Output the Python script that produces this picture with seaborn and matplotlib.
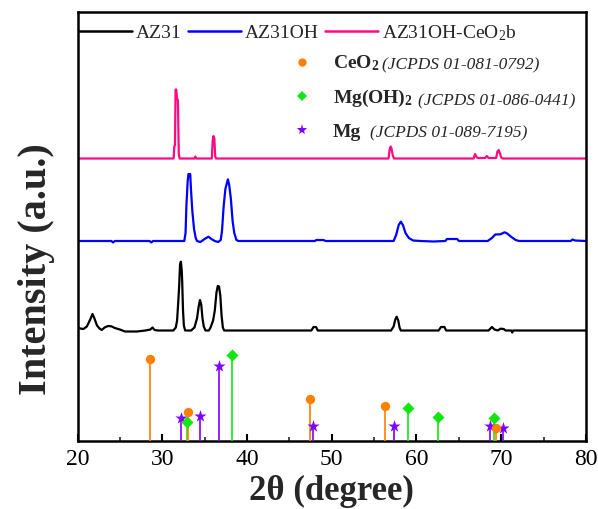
import numpy as np
import pandas as pd
import matplotlib
matplotlib.use("Agg")
import matplotlib.pyplot as plt
import seaborn as sns
from matplotlib.lines import Line2D

# ---------------- data ----------------
# XRD patterns: 2theta and intensity above each pattern's own baseline (a.u.)
az31_2theta = [20.0, 20.3, 20.7, 21.1, 21.5, 21.77, 22.0, 22.3, 22.6, 22.85, 23.2, 23.6, 24.0, 24.4,
               25.0, 25.6, 27.0, 28.0, 28.6, 28.85, 29.1, 29.5, 31.3, 31.6, 31.75, 31.9, 32.0, 32.1,
               32.2, 32.3, 32.35, 32.45, 32.55, 32.7, 33.4, 33.8, 34.1, 34.3, 34.45, 34.6, 34.75, 34.9,
               35.1, 35.5, 35.7, 36.0, 36.2, 36.4, 36.55, 36.7, 36.85, 37.0, 37.15, 37.3, 47.6, 47.85,
               48.15, 48.35, 57.0, 57.3, 57.5, 57.66, 57.85, 58.0, 58.15, 62.6, 62.9, 63.3, 63.5, 68.5,
               68.9, 69.2, 69.6, 69.9, 70.3, 70.5, 71.2, 71.3, 71.4, 80.0]
az31_int = [3.8, 2.0, 1.5, 4.0, 11.0, 16.5, 12.0, 5.0, 2.0, 0.5, 3.0, 4.5, 4.2, 2.5,
            1.0, -1.0, -1.0, 0.0, 1.0, 3.0, 0.5, 0.0, 0.0, 3.0, 10.0, 30.0, 45.0, 66.0,
            68.8, 60.0, 50.0, 20.0, 5.0, 0.0, 0.0, 3.0, 12.0, 24.0, 30.5, 26.0, 12.0, 4.0,
            0.0, 0.0, 3.0, 10.0, 20.0, 38.0, 44.5, 44.0, 35.0, 15.0, 3.0, 0.0, 0.0, 3.5,
            3.5, 0.0, 0.0, 4.0, 11.0, 13.8, 10.0, 3.0, 0.0, 0.0, 3.5, 3.5, 0.0, 0.0,
            3.5, 1.0, 0.0, 1.8, 1.5, 0.0, 0.0, -2.0, 0.0, 0.0]

az31oh_2theta = [20.0, 24.0, 24.2, 24.4, 28.5, 28.7, 28.9, 32.6, 32.75, 32.85, 33.0, 33.1, 33.2,
                 33.3, 33.4, 33.55, 33.75, 33.95, 34.1, 34.5, 35.0, 35.45, 35.8, 36.2, 36.6, 36.9,
                 37.05, 37.25, 37.45, 37.6, 37.75, 37.9, 38.1, 38.3, 38.5, 38.75, 39.0, 48.0, 48.2,
                 49.0, 49.3, 57.3, 57.6, 57.9, 58.15, 58.4, 58.7, 59.1, 59.6, 60.5, 62.0, 63.4, 63.6,
                 64.8, 65.0, 68.4, 68.9, 69.3, 69.9, 70.4, 70.7, 71.2, 71.7, 72.1, 78.2, 78.4, 78.7, 80.0]
az31oh_int = [0.0, 0.0, -1.5, 0.0, 0.0, -1.5, 0.0, 0.0, 8.0, 35.0, 60.0, 67.0, 66.0,
              67.0, 50.0, 30.0, 12.0, 3.0, 0.0, -1.0, 2.0, 4.3, 2.0, 0.0, -1.0, 1.0,
              10.0, 35.0, 52.0, 57.0, 61.7, 56.0, 42.0, 20.0, 8.0, 1.0, 0.0, 0.0, 1.0,
              1.0, 0.0, 0.0, 6.0, 16.0, 19.3, 16.0, 8.0, 3.0, 0.5, 0.0, -0.5, 0.0, 2.0,
              2.0, 0.0, 0.0, 3.0, 6.5, 6.7, 8.7, 7.5, 4.0, 1.0, 0.0, 0.0, 1.5, 0.5, 0.0]

ceo2b_2theta = [20.0, 31.35, 31.42, 31.5, 31.57, 31.65, 31.75, 31.85, 31.95, 32.05, 33.8, 33.9, 34.0,
                35.85, 35.95, 36.05, 36.15, 36.25, 36.35, 56.7, 56.85, 56.95, 57.05, 57.2, 57.35,
                66.75, 66.9, 67.05, 67.2, 68.1, 68.3, 68.5, 69.4, 69.55, 69.7, 69.85, 70.0, 70.2, 80.0]
ceo2b_int = [0.0, 0.0, 12.0, 13.0, 69.0, 69.0, 60.0, 58.0, 5.0, 0.0, 0.0, 2.0, 0.0,
             0.0, 18.0, 22.5, 20.0, 2.0, 0.0, 0.0, 10.0, 12.0, 10.0, 3.0, 0.0,
             0.0, 4.5, 2.0, 0.5, 0.5, 2.5, 0.5, 0.5, 7.0, 8.5, 5.0, 1.0, 0.0, 0.0]

# Reference patterns (stick positions and relative intensities)
ceo2_pos = [28.55, 33.08, 47.44, 56.34, 69.37]
ceo2_int = [81.7, 29.3, 41.7, 35.0, 12.7]
mgoh2_pos = [32.95, 38.27, 58.98, 62.5, 69.1]
mgoh2_int = [19.3, 86.0, 32.7, 23.7, 22.7]
mg_pos = [32.2, 34.45, 36.65, 47.83, 57.4, 68.62, 70.16]
mg_int = [23.3, 25.0, 75.3, 15.0, 15.0, 15.0, 12.7]

sample_labels = ["AZ31", "AZ31OH", "AZ31OH-CeO$_2$b"]
phase_labels = ["CeO$_2$", "Mg(OH)$_2$", "Mg"]
phase_cards = ["(JCPDS 01-081-0792)", "(JCPDS 01-086-0441)", "(JCPDS 01-089-7195)"]
xticks = [20, 30, 40, 50, 60, 70, 80]

# ---------------- style ----------------
sns.set_theme(style="ticks")
plt.rcParams['font.family'] = ['Liberation Serif', 'DejaVu Serif']
plt.rcParams['mathtext.fontset'] = 'custom'
plt.rcParams['mathtext.rm'] = 'Liberation Serif'
plt.rcParams['mathtext.it'] = 'Liberation Serif:italic'
plt.rcParams['mathtext.bf'] = 'Liberation Serif:bold'
plt.rcParams['mathtext.default'] = 'regular'

sample_colors = ["#000000", "#0000FF", "#FF0A80"]
sample_offsets = [110.5, 200.0, 282.5]
c_ceo2, c_mgoh2, c_mg = "#FF8000", "#12E612", "#8000FF"

fig = plt.figure(figsize=(5.98, 5.09), dpi=100)
ax = fig.add_axes([0.1296, 0.1336, 0.8503, 0.8428])

patterns = [(az31_2theta, az31_int), (az31oh_2theta, az31oh_int), (ceo2b_2theta, ceo2b_int)]
for (tt, ii), lab, col, off in zip(patterns, sample_labels, sample_colors, sample_offsets):
    df = pd.DataFrame({"2theta": tt, "I": np.asarray(ii) + off})
    sns.lineplot(data=df, x="2theta", y="I", color=col, lw=1.6, ax=ax, label=lab,
                 estimator=None, sort=False)

# stick patterns
for pos, inten, col, mk, sz in [(mg_pos, mg_int, c_mg, "*", 85),
                                (mgoh2_pos, mgoh2_int, c_mgoh2, "D", 38),
                                (ceo2_pos, ceo2_int, c_ceo2, "o", 45)]:
    ax.vlines(pos, 0, inten, color=col, lw=1.2, zorder=3)
    sns.scatterplot(x=pos, y=inten, marker=mk, s=sz, color=col, edgecolor=col,
                    linewidth=0, ax=ax, zorder=4, legend=False)

ax.set_xlim(20, 80)
ax.set_ylim(0, 429)
ax.set_xticks(xticks)
ax.set_xticks(np.arange(25, 80, 10), minor=True)
ax.set_yticks([])
ax.tick_params(axis='x', which='major', direction='in', length=5, width=1.5,
               labelsize=17, pad=6, colors='black')
ax.tick_params(axis='x', which='minor', direction='in', length=3, width=1.2)
for sp in ax.spines.values():
    sp.set_linewidth(1.8)
    sp.set_color('black')

ax.set_xlabel("2θ (degree)", fontsize=25, fontweight='bold', labelpad=3)
ax.set_ylabel("Intensity (a.u.)", fontsize=29, fontweight='bold')
ax.yaxis.set_label_coords(-0.045, 0.40)

# legend of samples
h, l = ax.get_legend_handles_labels()
leg1 = ax.legend(h, l, loc='upper left', bbox_to_anchor=(-0.004, 0.983), ncol=3, frameon=False,
                 fontsize=14, handlelength=2.7, handletextpad=0.2, columnspacing=0.35,
                 borderaxespad=0, borderpad=0.2)
for line in leg1.get_lines():
    line.set_linewidth(1.8)

# legend of reference phases
h2 = [Line2D([], [], ls='none', marker='o', ms=6, color=c_ceo2, mew=0),
      Line2D([], [], ls='none', marker='D', ms=5, color=c_mgoh2, mew=0),
      Line2D([], [], ls='none', marker='*', ms=8, color=c_mg, mew=0)]
leg2 = ax.legend(h2, phase_labels, loc='upper left', bbox_to_anchor=(0.4218, 0.903),
                 frameon=False, prop={'family': 'Liberation Serif', 'weight': 'bold', 'size': 14},
                 handlelength=1.0, handletextpad=1.1, labelspacing=0.75,
                 borderpad=0, borderaxespad=0)
ax.add_artist(leg1)

for txt, card, dx in zip(leg2.get_texts(), phase_cards, [2, 4, 6]):
    ax.annotate(card, xy=(1, 0), xycoords=txt, xytext=(dx, 0), textcoords='offset points',
                fontsize=12.5, style='italic', ha='left', va='bottom', zorder=7,
                family='Liberation Serif')

fig.savefig("out.png", dpi=100)
